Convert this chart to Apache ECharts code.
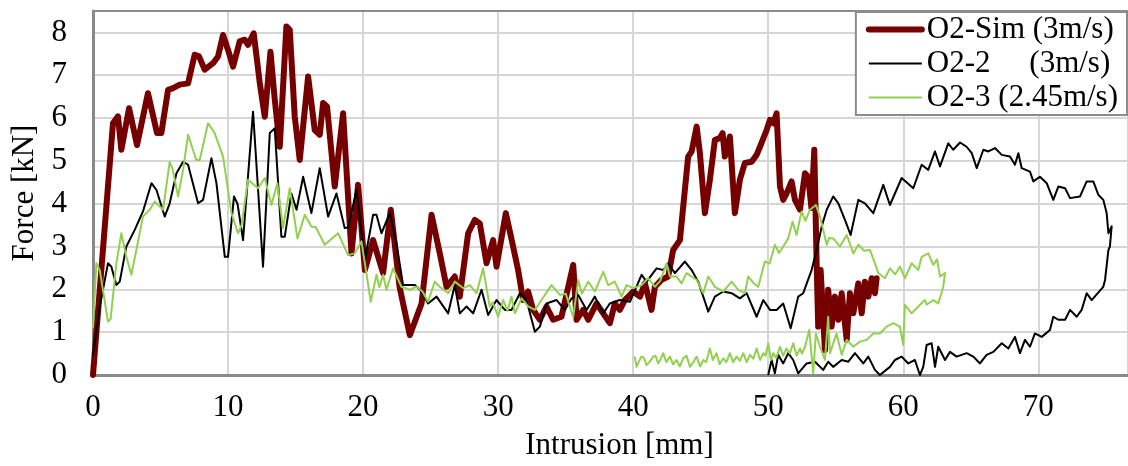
<!DOCTYPE html>
<html>
<head>
<meta charset="utf-8">
<script src="https://cdn.jsdelivr.net/npm/echarts@6/dist/echarts.min.js"></script>
<style>
html,body{margin:0;padding:0;background:#fff;}
#chart{width:1128px;height:466px;}
</style>
</head>
<body>
<div id="chart"></div>
<script>
const seriesNames = ['O2-Sim (3m/s)', 'O2-2     (3m/s)', 'O2-3 (2.45m/s)'];
const xTicks = [0, 10, 20, 30, 40, 50, 60, 70];
const yTicks = [0, 1, 2, 3, 4, 5, 6, 7, 8];

const simX = [0,1.48,1.85,2.1,2.67,3.26,4.07,4.74,5.06,5.56,5.93,6.42,7.04,7.53,7.85,8.27,8.89,9.26,9.63,10.0,10.37,10.86,11.23,11.48,11.9,12.35,12.72,13.14,13.46,13.83,14.32,14.57,14.94,15.31,15.93,16.42,16.79,17.04,17.33,17.9,18.52,19.14,19.63,20.13,20.74,21.48,22.05,22.7,23.46,24.33,25.07,25.68,26.18,26.79,27.16,27.78,28.27,28.64,29.14,29.63,29.88,30.57,31.11,31.48,31.85,32.22,32.59,33.09,33.58,34.07,34.69,35.56,35.81,36.3,36.67,37.29,37.78,38.27,38.64,39.01,39.38,40,40.5,40.87,41.36,41.61,42.1,42.59,42.96,43.46,44.07,44.33,44.7,44.94,45.31,45.68,46.05,46.42,46.62,46.79,47.16,47.53,47.9,48.27,48.77,49.14,49.39,49.88,50.13,50.37,50.62,50.87,51.11,51.36,51.73,51.98,52.35,52.72,52.96,53.2,53.41,53.59,53.7,53.88,54.2,54.44,54.69,54.94,55.19,55.44,55.81,56.05,56.3,56.67,56.92,57.16,57.41,57.66,57.9,58.03];
const simY = [0,5.88,6.04,5.26,6.23,5.37,6.58,5.65,5.65,6.66,6.7,6.78,6.81,7.48,7.44,7.13,7.28,7.44,7.94,7.59,7.2,7.79,7.83,7.71,7.98,6.82,6.03,7.55,6.43,5.33,8.14,8.06,6.03,5.02,6.97,5.72,5.61,6.35,6.27,4.4,6.11,2.84,4.44,2.45,3.15,2.38,3.86,2.06,0.93,1.67,3.74,2.84,2.06,2.3,1.83,3.31,3.62,3.54,2.61,3.15,2.53,3.78,3.0,2.45,1.75,1.95,1.52,1.29,1.6,1.29,1.36,2.57,1.29,1.52,1.29,1.67,1.44,1.21,1.67,1.52,1.75,1.95,1.83,2.14,1.52,2.06,2.22,2.3,2.92,3.15,5.1,5.22,5.8,5.18,3.78,4.56,5.49,5.53,5.65,5.1,5.57,3.78,4.56,4.95,4.98,5.14,5.33,5.72,5.96,5.88,6.11,4.4,4.09,4.24,4.52,4.09,3.86,4.71,4.63,3.9,5.26,2.53,1.13,2.45,0.58,1.99,1.13,1.83,1.29,1.91,0.82,1.91,1.44,2.14,1.44,2.18,1.83,2.26,1.91,2.26];

const o22X = [0,0.5,1.11,1.36,1.73,1.98,2.47,3.09,3.7,4.33,4.7,5.31,5.68,6.18,6.67,7.04,7.78,8.15,8.77,9.14,9.76,10.0,10.44,10.7,11.11,11.85,12.59,13.09,13.46,13.95,14.2,14.69,15.07,15.56,16.17,16.79,17.41,18.03,18.64,18.9,19.51,20.13,20.74,20.99,21.36,21.98,22.47,22.96,23.83,24.33,24.81,25.44,26.3,26.79,27.16,27.66,28.15,28.77,29.26,29.88,30.5,30.99,31.61,32.1,32.72,33.09,33.58,34.33,34.94,35.44,35.93,36.55,37.16,37.78,38.27,39.01,39.76,40.62,41.0,41.73,42.22,42.59,43.09,43.83,44.33,44.81,45.19,45.56,46.05,46.67,47.29,47.9,48.4,49.14,49.63,50.13,50.62,51.11,51.66,52.22,52.59,53.21,53.59,53.96,54.33,54.81,55.19,55.68,56.1,56.67,57.16,57.78,58.52,59.01,59.88,60.74,61.36,61.85,62.35,62.72,63.33,63.7,64.2,64.69,65.07,65.44,65.93,66.3,66.79,67.29,67.9,68.27,68.52,68.77,69.38,69.63,70.12,70.62,71.11,71.48,71.98,72.35,73.09,73.58,74.07,74.44,74.81,75.06,75.19,75.43,75.3,75.19,74.94,74.81,73.95,73.58,73.21,72.84,72.35,71.98,71.48,71.11,70.86,70.25,69.75,69.38,69.01,68.64,68.27,67.78,67.29,66.67,66.17,65.68,65.19,64.69,63.95,63.46,63.09,62.59,62.35,62.1,61.73,61.48,61.23,60.86,60.37,59.88,59.38,59.01,58.27,57.9,57.41,57.04,56.42,55.93,55.44,54.81,54.44,54.07,53.46,52.84,52.22,51.85,51.48,51.11,50.74,50.49,50.25,50];
const o22Y = [0.45,1.6,2.61,2.53,2.1,2.18,3.0,3.39,3.82,4.48,4.32,3.7,4.01,4.71,4.98,4.91,4.01,4.09,5.06,4.48,2.76,2.76,4.17,4.0,3.15,6.15,2.53,5.65,5.76,3.23,3.23,4.24,3.86,4.63,3.78,4.83,3.7,4.24,3.43,3.45,4.32,2.69,3.74,3.74,3.31,3.78,3.08,2.1,2.1,1.95,1.67,1.83,1.44,2.1,1.44,1.6,1.44,1.99,1.4,1.75,1.52,1.52,1.91,1.75,1.01,1.13,1.67,1.75,1.52,1.79,1.87,1.52,1.83,1.44,1.67,1.75,1.71,2.34,2.18,2.49,2.45,2.61,2.38,2.65,2.45,2.18,1.83,1.48,1.83,1.95,1.91,1.79,1.91,1.36,1.75,1.52,1.52,1.67,1.09,1.83,1.91,2.45,2.92,3.47,3.86,4.17,4.01,3.62,3.27,4.09,4.01,3.78,4.44,3.97,4.6,4.36,4.91,4.79,5.22,4.87,5.41,5.26,5.43,5.33,5.18,4.83,5.26,5.22,5.3,5.14,5.1,4.91,5.18,4.83,4.75,4.52,4.63,4.48,4.09,4.4,4.36,4.13,4.17,4.52,4.52,4.21,4.09,3.78,3.31,3.47,3.0,2.92,2.22,2.06,1.75,1.91,1.52,1.36,1.52,1.29,1.29,1.36,1.05,0.89,0.97,0.66,0.82,0.51,0.89,0.62,0.74,0.54,0.47,0.27,0.43,0.51,0.43,0.54,0.35,0.66,0.19,0.74,0.7,0.19,0,0.35,0.27,0.43,0.35,0.19,0,0.12,0.43,0.27,0.51,0.31,0.35,0.19,0.31,0.12,0.31,0.27,0.04,0.35,0.51,0.27,0.47,0.04,0.35,0];

const o23X = [0,0.25,0.5,1.11,1.3,1.73,2.1,2.47,2.84,3.21,3.7,4.2,4.57,5.19,5.68,5.9,6.3,6.67,7.04,7.65,7.9,8.52,9.01,9.63,10.25,10.74,11.0,11.48,12.22,12.72,13.21,13.65,14.07,14.57,15.14,15.68,16.17,16.5,17.16,18.15,18.89,19.38,19.88,20.57,20.99,21.2,21.48,21.73,22.22,22.84,23.46,23.95,24.4,24.81,25.31,25.68,26.3,26.79,27.41,27.9,28.4,28.89,29.38,29.6,30,30.37,30.7,30.99,31.24,31.73,32.22,32.72,33.21,33.95,34.57,35.0,35.56,35.93,36.2,36.67,37.16,37.78,38.15,38.64,39.14,39.51,40.0,40.62,41.11,41.61,42.0,42.47,42.72,43.2,43.58,43.95,44.3,44.7,45.19,45.56,46.05,46.67,47.29,47.78,48.27,48.52,48.9,49.26,49.75,50.1,50.49,50.8,51.11,51.48,51.8,52.1,52.47,52.75,53.09,53.53,53.83,54.07,54.33,54.5,54.81,55.31,55.81,56.3,56.67,57.1,57.53,57.9,58.15,58.64,59.01,59.4,59.75,60.12,60.62,61.11,61.36,61.85,62.22,62.5,62.72,63.09,62.96,62.59,62.22,61.73,61.6,61.11,60.62,60.12,60,59.75,59.26,58.77,58.27,57.78,57.29,56.79,56.3,55.81,55.44,55.06,54.57,54.44,54.2,53.83,53.53,53.33,53.04,52.72,52.5,52.35,52.1,51.85,51.6,51.36,51.1,50.87,50.6,50.37,50.2,50,49.8,49.63,49.4,49.14,48.9,48.64,48.4,48.15,47.9,47.66,47.4,47.16,46.9,46.67,46.4,46.17,45.9,45.68,45.4,45.19,44.95,44.7,44.45,44.2,43.95,43.7,43.45,43.21,42.95,42.72,42.45,42.22,42.0,41.85,41.65,41.48,41.2,40.99,40.8,40.62,40.4,40.25,40.12];
const o23Y = [1.1,2.61,2.45,1.25,1.3,2.61,3.31,2.76,2.34,2.92,3.7,3.86,4.05,3.86,4.98,4.8,4.17,4.79,5.61,5.02,5.02,5.88,5.65,5.1,3.78,3.31,3.5,4.56,4.36,4.6,3.97,4.48,3.43,4.36,3.19,3.74,3.47,3.45,3.04,3.31,2.8,2.84,3.12,1.71,2.34,2.05,2.34,1.99,2.49,2.06,1.99,2.06,1.95,1.71,2.18,2.06,1.91,2.18,2.03,2.1,1.91,2.49,1.6,1.7,1.36,1.75,1.5,1.83,1.44,1.79,1.6,1.52,1.75,2.1,1.87,1.9,1.36,2.22,1.9,2.18,1.95,2.41,2.1,2.18,1.83,2.1,2.03,2.1,2.26,2.06,2.2,2.61,2.3,2.3,2.14,2.38,2.3,2.22,1.91,2.3,2.06,1.95,2.18,1.99,1.91,2.3,2.15,2.06,2.65,2.6,3.04,2.85,3.0,3.19,3.58,3.27,3.82,3.6,3.86,3.97,3.7,3.39,3.04,3.2,3.19,3.0,3.27,2.84,3.04,2.9,2.92,2.61,2.38,2.26,2.49,2.35,2.53,2.26,2.61,2.45,2.76,2.84,2.57,2.7,2.3,2.38,2.06,1.67,1.75,1.64,1.75,1.6,1.44,1.64,0.7,1.13,1.21,1.13,0.97,0.97,0.82,0.78,0.66,0.82,0.47,0.97,0.51,1.36,0.35,0.66,0.97,0.04,1.05,0.66,0.5,0.62,0.45,0.74,0.5,0.62,0.45,0.66,0.4,0.51,0.35,0.74,0.45,0.51,0.35,0.62,0.38,0.47,0.3,0.51,0.33,0.43,0.3,0.51,0.3,0.39,0.25,0.51,0.35,0.62,0.3,0.35,0.2,0.43,0.3,0.19,0.45,0.39,0.2,0.35,0.25,0.43,0.3,0.51,0.35,0.27,0.45,0.43,0.3,0.23,0.4,0.43,0.3,0.19,0.43];

function pairs(xs, ys) { return xs.map((x, i) => [x, ys[i]]); }

const FONT = "'Liberation Serif', 'Times New Roman', serif";
const chart = echarts.init(document.getElementById('chart'), null, { renderer: 'canvas' });

chart.setOption({
  animation: false,
  backgroundColor: '#ffffff',
  grid: { left: 93, right: 0, top: 11, bottom: 91, containLabel: false },
  legend: {
    orient: 'vertical',
    right: 1,
    top: 12,
    data: seriesNames,
    backgroundColor: '#ffffff',
    borderColor: '#8c8c8c',
    borderWidth: 2,
    padding: [2, 9, 2, 10],
    itemWidth: 53,
    itemHeight: 14,
    itemGap: 3,
    itemStyle: { opacity: 0 },
    lineStyle: { width: 'inherit' },
    textStyle: { fontFamily: FONT, fontSize: 31, color: '#000', lineHeight: 30 }
  },
  xAxis: [{
    type: 'value',
    min: 0,
    max: 76.64,
    interval: 10,
    name: 'Intrusion [mm]',
    nameLocation: 'middle',
    nameGap: 55,
    nameTextStyle: { fontFamily: FONT, fontSize: 31, color: '#000', padding: [0, 0, 0, 18] },
    axisLine: { show: true, lineStyle: { color: '#898989', width: 3 } },
    axisTick: { show: false },
    axisLabel: { fontFamily: FONT, fontSize: 31, color: '#000', margin: 17, showMaxLabel: false,
      formatter: v => xTicks.includes(v) ? String(v) : '' },
    splitLine: { show: true, lineStyle: { color: '#d6d6d6', width: 2 } }
  }, {
    type: 'value',
    position: 'top',
    min: 0,
    max: 76.64,
    axisLine: { show: true, onZero: false, lineStyle: { color: '#8c8c8c', width: 2 } },
    axisTick: { show: false },
    axisLabel: { show: false },
    splitLine: { show: false }
  }],
  yAxis: {
    type: 'value',
    min: 0,
    max: 8.5,
    interval: 1,
    name: 'Force [kN]',
    nameLocation: 'middle',
    nameGap: 52,
    nameTextStyle: { fontFamily: FONT, fontSize: 31, color: '#000' },
    axisLine: { show: true, lineStyle: { color: '#898989', width: 3 } },
    axisTick: { show: false },
    axisLabel: { fontFamily: FONT, fontSize: 31, color: '#000', margin: 26, showMaxLabel: false,
      formatter: v => yTicks.includes(v) ? String(v) : '' },
    splitLine: { show: true, lineStyle: { color: '#d6d6d6', width: 2 } }
  },
  series: [
    { name: seriesNames[0], type: 'line', data: pairs(simX, simY), showSymbol: false, symbol: 'none',
      lineStyle: { color: '#760000', width: 6, cap: 'round', join: 'round' }, itemStyle: { color: '#760000' }, z: 2 },
    { name: seriesNames[1], type: 'line', data: pairs(o22X, o22Y), showSymbol: false, symbol: 'none',
      lineStyle: { color: '#000000', width: 2, join: 'round' }, itemStyle: { color: '#000000' }, z: 3 },
    { name: seriesNames[2], type: 'line', data: pairs(o23X, o23Y), showSymbol: false, symbol: 'none',
      lineStyle: { color: '#92d050', width: 2, join: 'round' }, itemStyle: { color: '#92d050' }, z: 4 }
  ]
});
</script>
</body>
</html>
